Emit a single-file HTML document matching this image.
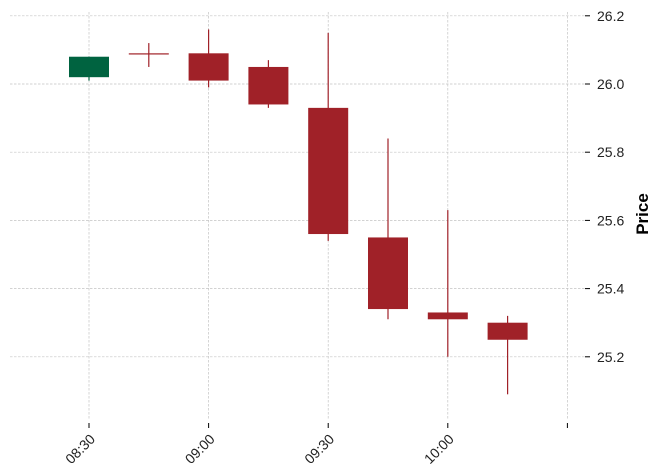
<!DOCTYPE html>
<html><head><meta charset="utf-8"><style>
body{margin:0;background:#fff;}
svg{display:block;font-family:"Liberation Sans","DejaVu Sans",sans-serif;}
</style></head><body>
<svg id="chart" width="660" height="471">
<g id="grid"></g>
<g id="candles"></g>
<g id="axes"></g>
<text x="648" y="214" font-size="17" font-weight="bold" text-anchor="middle" transform="rotate(-90 648 214)">Price</text>
</svg>
<script>
const times=["08:30","08:45","09:00","09:15","09:30","09:45","10:00","10:15"];
const opens=[26.02,26.09,26.09,26.05,25.93,25.55,25.33,25.30];
const highs=[26.08,26.12,26.16,26.07,26.15,25.84,25.63,25.32];
const lows=[26.01,26.05,25.99,25.93,25.54,25.31,25.20,25.09];
const closes=[26.08,26.09,26.01,25.94,25.56,25.34,25.31,25.25];
const yTicks=[25.2,25.4,25.6,25.8,26.0,26.2];
const xTickLabels=["08:30","09:00","09:30","10:00",""];
const NS="http://www.w3.org/2000/svg";
const yS=v=>84-(v-26)*341;
const xS=i=>89+i*59.8;
function mk(tag,attrs,parent){const e=document.createElementNS(NS,tag);for(const k in attrs)e.setAttribute(k,attrs[k]);parent.appendChild(e);return e;}
const grid=document.getElementById('grid'),cg=document.getElementById('candles'),ax=document.getElementById('axes');
yTicks.forEach(v=>{
  const y=yS(v);
  const l=mk('line',{x1:10,x2:585,y1:y,y2:y,stroke:'#c4c4c4','stroke-width':0.7,'stroke-dasharray':'2.5,1.5'},grid);
  
  
  const t=mk('line',{x1:585,x2:590,y1:y,y2:y,stroke:'#000','stroke-width':1},ax);
  
  
  const tx=mk('text',{x:597,y:y+5,'font-size':14,fill:'#222'},ax);
  tx.textContent=v.toFixed(1);
  
  
});
xTickLabels.forEach((lab,k)=>{
  const x=xS(k*2);
  const l=mk('line',{x1:x,x2:x,y1:12,y2:420,stroke:'#c4c4c4','stroke-width':0.7,'stroke-dasharray':'2.5,1.5'},grid);
  
  
  const t=mk('line',{x1:x,x2:x,y1:423,y2:428,stroke:'#000','stroke-width':1},ax);
  
  
  if(lab){
    const tx=mk('text',{x:x+7,y:440,'font-size':14,fill:'#222','text-anchor':'end',transform:`rotate(-45 ${x+7} 440)`},ax);
    tx.textContent=lab;
    
    
  }
});
times.forEach((t,i)=>{
  const up=closes[i]>opens[i];
  const col=up?'#006340':'#a02128';
  const x=xS(i);
  const w=mk('line',{x1:x,x2:x,y1:yS(highs[i]),y2:yS(lows[i]),stroke:col,'stroke-width':1.2},cg);
  
  
  const top=yS(Math.max(opens[i],closes[i])),bot=yS(Math.min(opens[i],closes[i]));
  const b=mk('rect',{x:x-20,y:top,width:40,height:Math.max(bot-top,1.2),fill:col},cg);
  
  
});
</script>
</body></html>
